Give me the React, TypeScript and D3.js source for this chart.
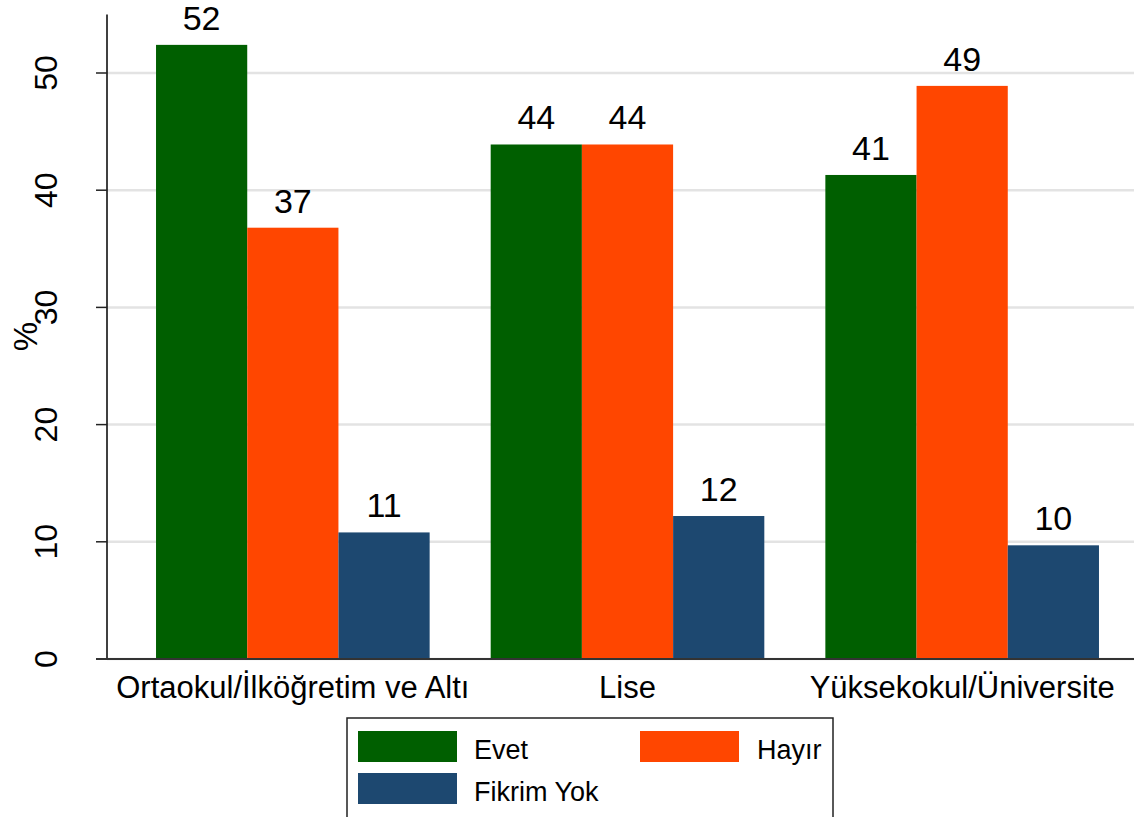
import React from "react";
import * as d3 from "d3";

const categories = ["Ortaokul/İlköğretim ve Altı", "Lise", "Yüksekokul/Üniversite"];
const seriesNames = ["Evet", "Hayır", "Fikrim Yok"];
const evet = [52.4, 43.9, 41.3];
const hayir = [36.8, 43.9, 48.9];
const fikrimYok = [10.8, 12.2, 9.7];
const seriesColors = ["#005f00", "#ff4600", "#1d4870"];
const yTicks = [0, 10, 20, 30, 40, 50];

const W = 1134;
const H = 817;
const FONT = "Liberation Sans, Arial, Helvetica, sans-serif";

export default function App() {
  const values = [evet, hayir, fikrimYok];
  const y = d3.scaleLinear().domain([0, 10]).range([659, 541.8]);
  const x0 = d3
    .scaleBand<string>()
    .domain(categories)
    .range([125.5, 1129.5])
    .paddingInner(0.1824)
    .paddingOuter(0.0912);
  const x1 = d3
    .scaleBand<string>()
    .domain(seriesNames)
    .range([0, x0.bandwidth()])
    .padding(0);

  const axisX = 107;
  const yTop = y(55);

  return (
    <svg
      width={W}
      height={H}
      style={{ position: "absolute", left: 0, top: 0, background: "#fff" }}
      fontFamily={FONT}
    >
      {yTicks.map((t) => (
        <line key={"g" + t} x1={axisX} x2={W} y1={y(t)} y2={y(t)} stroke="#e3e3e3" strokeWidth={2.5} />
      ))}
      {categories.map((c, ci) =>
        seriesNames.map((s, si) => {
          const v = values[si][ci];
          const bx = (x0(c) as number) + (x1(s) as number);
          return (
            <g key={c + s}>
              <rect
                x={bx}
                y={y(v)}
                width={x1.bandwidth()}
                height={y(0) - y(v)}
                fill={seriesColors[si]}
              />
              <text
                x={bx + x1.bandwidth() / 2}
                y={y(v) - 15}
                textAnchor="middle"
                fontSize={34}
                fill="#000"
              >
                {Math.round(v)}
              </text>
            </g>
          );
        })
      )}
      <line x1={axisX} x2={axisX} y1={yTop} y2={y(0)} stroke="#000" strokeWidth={1.5} />
      {yTicks.map((t) => (
        <g key={"t" + t}>
          <line x1={96} x2={axisX} y1={y(t)} y2={y(t)} stroke="#222" strokeWidth={1.5} />
          <text
            transform={`translate(57,${y(t)}) rotate(-90)`}
            textAnchor="middle"
            fontSize={32}
            fill="#000"
          >
            {t}
          </text>
        </g>
      ))}
      <text transform={`translate(37,${(yTop + y(0)) / 2}) rotate(-90)`} textAnchor="middle" fontSize={33} fill="#000">
        %
      </text>
      <line x1={96} x2={W} y1={y(0)} y2={y(0)} stroke="#333" strokeWidth={2} />
      {categories.map((c) => (
        <text
          key={"x" + c}
          x={(x0(c) as number) + x0.bandwidth() / 2}
          y={698}
          textAnchor="middle"
          fontSize={31}
          fill="#000"
        >
          {c}
        </text>
      ))}
      <rect x={347} y={718} width={486} height={120} fill="#fff" stroke="#222" strokeWidth={1.5} />
      {[
        { i: 0, sx: 358, sy: 731, tx: 474 },
        { i: 1, sx: 640, sy: 731, tx: 757 },
        { i: 2, sx: 358, sy: 773, tx: 474 },
      ].map((l) => (
        <g key={"l" + l.i}>
          <rect x={l.sx} y={l.sy} width={99} height={31} fill={seriesColors[l.i]} />
          <text x={l.tx} y={l.sy + 28} fontSize={27} fill="#000">
            {seriesNames[l.i]}
          </text>
        </g>
      ))}
    </svg>
  );
}
